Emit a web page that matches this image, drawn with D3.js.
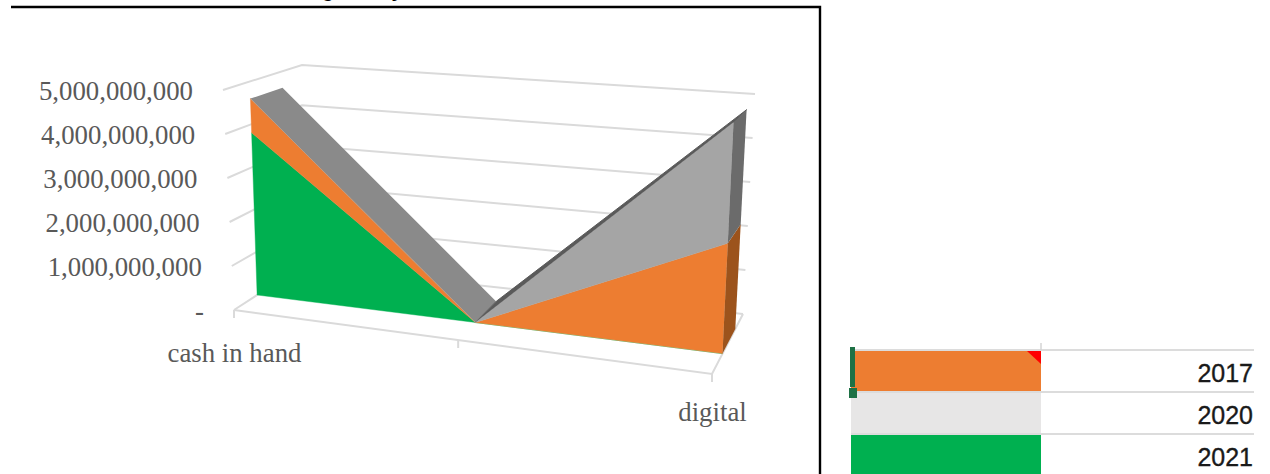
<!DOCTYPE html>
<html>
<head>
<meta charset="utf-8">
<script src="https://cdn.jsdelivr.net/npm/d3@7"></script>
<style>
  html, body { margin: 0; padding: 0; background: #fff; }
  svg { display: block; }
</style>
</head>
<body>
<svg id="chart" width="1270" height="474"></svg>
<script>
// Payment-mode categories; the middle one is blank on the sheet.
const categories = ["cash in hand", "", "digital"];
const seriesKeys = ["2021", "2017", "2020"];
const values2021 = [3800000000, 0, 0];
const values2017 = [800000000, 0, 2300000000];
const values2020 = [0, 0, 2520000000];
const valueTicks = [0, 1000000000, 2000000000, 3000000000, 4000000000, 5000000000];
const tableYears = ["2017", "2020", "2021"];

const colors = {
  "2017": { face: "#ED7D31", side: "#9C531C" },
  "2020": { face: "#A5A5A5", side: "#6B6B6B", slopeDown: "#8A8A8A", slopeUp: "#5A5A5A" },
  "2021": { face: "#00B050" }
};
const tableColors = { "2017": "#ED7D31", "2020": "#E7E6E6", "2021": "#00B050" };

const svg = d3.select("#chart");

// Stack the series so each band has its own baseline and top.
const rows = categories.map((c, i) => ({
  category: c, "2021": values2021[i], "2017": values2017[i], "2020": values2020[i]
}));
const stacked = d3.stack().keys(seriesKeys)(rows);

// Horizontal position along the floor, foreshortened by the camera angle.
const uScale = d3.scaleLinear().domain([0, 1, 2]).range([0, 0.469, 1]);
const vScale = d3.scaleLinear().domain([0, 5000000000]).range([0, 1]);

// Corners of the chart box on screen: [front, back] at the left and right ends.
const box = {
  floorL: [[234, 310], [302, 266]],
  floorR: [[712, 374], [743, 314]],
  topL: [[223, 90], [302, 65]],
  topR: [[723, 124], [755, 94]]
};
const faceDepth = 0.34;   // depth of the front of the area block
const backDepth = 0.75;   // depth of the rear of the area block

// Trilinear projection from (category index, value, depth) to the screen.
function project(i, value, depth) {
  const u = uScale(i), v = vScale(value);
  const along = (pair) => [
    pair[0][0] + (pair[1][0] - pair[0][0]) * depth,
    pair[0][1] + (pair[1][1] - pair[0][1]) * depth
  ];
  const mix = (a, b, t) => [a[0] + (b[0] - a[0]) * t, a[1] + (b[1] - a[1]) * t];
  const lowEdge = mix(along(box.floorL), along(box.floorR), u);
  const highEdge = mix(along(box.topL), along(box.topR), u);
  return mix(lowEdge, highEdge, v);
}

const polyPath = (pts) => "M" + pts.map(p => p[0].toFixed(1) + "," + p[1].toFixed(1)).join("L") + "Z";
const linePath = d3.line();
const gridColor = "#DADADA";

// Back wall, left wall and floor gridlines.
const grid = svg.append("g").attr("fill", "none").attr("stroke", gridColor).attr("stroke-width", 2);
valueTicks.forEach(t => {
  grid.append("path").attr("d", linePath([project(0, t, 0), project(0, t, 1), project(2, t, 1)]));
});
grid.append("path").attr("d", linePath([project(0, 0, 0), project(2, 0, 0), project(2, 0, 1)]));
categories.forEach((c, i) => {
  const p = project(i, 0, 0);
  grid.append("path").attr("d", linePath([p, [p[0], p[1] + 8]]));
});

// Area block: upper surfaces first, then the front faces and the end cap.
const topLayer = stacked[stacked.length - 1];
const topValue = (i) => topLayer[i][1];
const block = svg.append("g").attr("shape-rendering", "geometricPrecision");
block.append("path").attr("fill", colors["2020"].slopeDown)
  .attr("d", polyPath([
    project(0, topValue(0), faceDepth), project(0, topValue(0), backDepth),
    project(1, topValue(1), backDepth), project(1, topValue(1), faceDepth)
  ]));
block.append("path").attr("fill", colors["2020"].slopeUp)
  .attr("stroke", colors["2020"].slopeUp).attr("stroke-width", 1)
  .attr("d", polyPath([
    project(1, topValue(1), faceDepth), project(1, topValue(1), backDepth),
    project(2, topValue(2), backDepth), project(2, topValue(2), faceDepth)
  ]));

stacked.forEach(layer => {
  const upper = layer.map((d, i) => project(i, d[1], faceDepth));
  const lower = layer.map((d, i) => project(i, d[0], faceDepth)).reverse();
  block.append("path").attr("fill", colors[layer.key].face)
    .attr("stroke", colors[layer.key].face).attr("stroke-width", 0.4)
    .attr("d", polyPath(upper.concat(lower)));
});

// End cap at the last category.
const last = categories.length - 1;
stacked.forEach(layer => {
  const d = layer[last];
  if (d[1] <= d[0]) return;
  block.append("path").attr("fill", colors[layer.key].side)
    .attr("d", polyPath([
      project(last, d[0], faceDepth), project(last, d[0], backDepth),
      project(last, d[1], backDepth), project(last, d[1], faceDepth)
    ]));
});

// Value labels, staggered along the slanted left edge of the box.
const serif = "'Liberation Serif', serif";
const labelFormat = (v) => v === 0 ? "-" : d3.format(",")(v);
svg.append("g").selectAll("text").data(valueTicks).join("text")
  .attr("x", d => project(0, d, 0)[0] - 30)
  .attr("y", d => project(0, d, 0)[1] + 0.5)
  .attr("text-anchor", "end")
  .attr("dominant-baseline", "central")
  .attr("font-family", serif).attr("font-size", 26.8).attr("fill", "#595959")
  .text(labelFormat);

// Category labels under the floor ticks.
svg.append("g").selectAll("text").data(categories.filter(c => c)).join("text")
  .attr("x", d => project(categories.indexOf(d), 0, 0)[0] + 0.5)
  .attr("y", d => project(categories.indexOf(d), 0, 0)[1] + (d === "digital" ? 47 : 52))
  .attr("text-anchor", "middle")
  .attr("font-family", serif).attr("font-size", 26.8).attr("fill", "#595959")
  .text(d => d);

// Chart frame.
svg.append("path").attr("fill", "none").attr("stroke", "#000").attr("stroke-width", 2.4)
  .attr("d", linePath([[11, 7], [820, 7], [820, 474]]));

// Descenders of the heading that runs off the top of the page.
svg.append("g").selectAll("text").data([{ t: "g", x: 328 }, { t: "y", x: 397 }]).join("text")
  .attr("x", d => d.x).attr("y", -3).attr("text-anchor", "middle")
  .attr("font-family", "'Liberation Sans', sans-serif").attr("font-weight", "bold")
  .attr("font-size", 20).attr("fill", "#000").text(d => d.t);

// Spreadsheet cells to the right of the chart.
const rowScale = d3.scaleBand().domain(tableYears).range([350, 476]);
const sheet = svg.append("g");
sheet.selectAll("rect.swatch").data(tableYears).join("rect").attr("class", "swatch")
  .attr("x", 851).attr("width", 190)
  .attr("y", d => rowScale(d)).attr("height", rowScale.bandwidth())
  .attr("fill", d => tableColors[d]);
sheet.selectAll("line.row").data(tableYears).join("line").attr("class", "row")
  .attr("x1", 851).attr("x2", 1254)
  .attr("y1", d => rowScale(d)).attr("y2", d => rowScale(d))
  .attr("stroke", "#DCDCDC").attr("stroke-width", 2);
sheet.append("line").attr("x1", 1041).attr("x2", 1041).attr("y1", 343).attr("y2", 350)
  .attr("stroke", "#D4D4D4").attr("stroke-width", 1.5);
sheet.selectAll("text").data(tableYears).join("text")
  .attr("x", 1253).attr("y", d => rowScale(d) + rowScale.bandwidth() / 2 + 2)
  .attr("text-anchor", "end").attr("dominant-baseline", "central")
  .attr("font-family", "'Liberation Sans', sans-serif").attr("font-size", 25)
  .attr("fill", "#1A1A1A").attr("stroke", "#1A1A1A").attr("stroke-width", 0.35)
  .text(d => d);

// Comment flag and selected-cell marker.
sheet.append("path").attr("fill", "#FF0000").attr("d", "M1027,351L1041,351L1041,364Z");
sheet.append("rect").attr("x", 850).attr("y", 347).attr("width", 5).attr("height", 40).attr("fill", "#1E7145");
sheet.append("rect").attr("x", 849).attr("y", 388).attr("width", 8).attr("height", 10).attr("fill", "#1E7145");
</script>
</body>
</html>
